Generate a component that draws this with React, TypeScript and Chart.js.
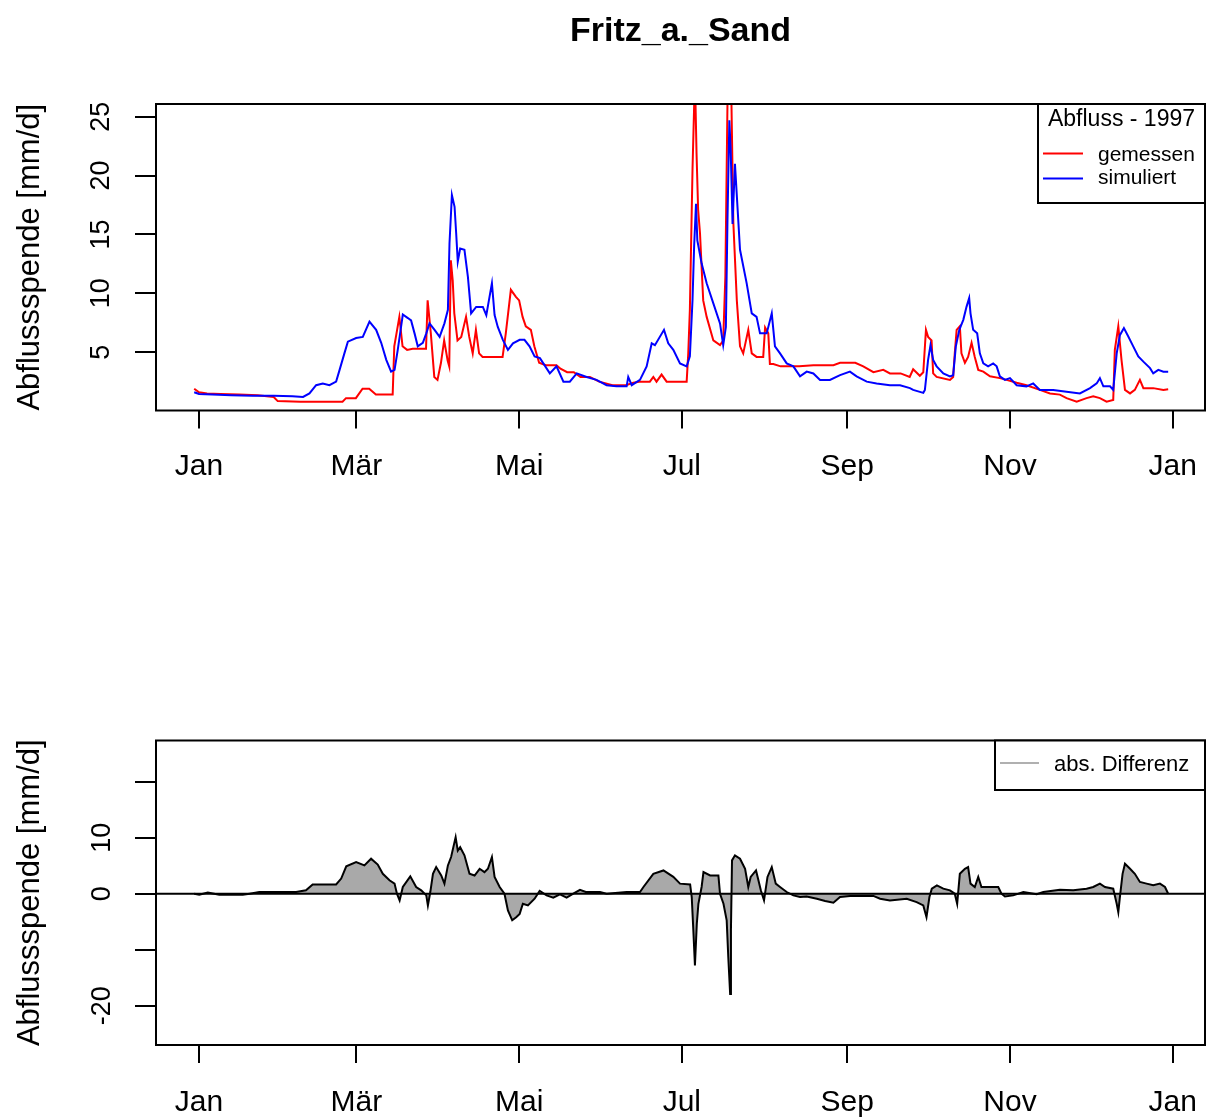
import { useEffect, useRef } from 'react';
import { Chart, registerables } from 'chart.js';

Chart.register(...registerables);

const FONT = '"Liberation Sans", Arial, Helvetica, sans-serif';

// ---- texts ----
const chartTitle = 'Fritz_a._Sand';
const yAxisTitle = 'Abflussspende [mm/d]';
const legendTitle = 'Abfluss - 1997';
const seriesNames = ['gemessen', 'simuliert'];
const diffName = 'abs. Differenz';

// ---- axes (day of year 1997, 0 = 1 Jan) ----
const monthTickDays = [0, 59, 120, 181, 243, 304, 365];
const monthLabels = ['Jan', 'Mär', 'Mai', 'Jul', 'Sep', 'Nov', 'Jan'];
const topYTicks = [5, 10, 15, 20, 25];
const topYLabels = ['5', '10', '15', '20', '25'];
const bottomYTicks = [-20, -10, 0, 10, 20];
const bottomYLabels = ['-20', '', '0', '10', ''];

// ---- measured discharge (gemessen) ----
const measuredDays = [-1.8, 0, 3, 8, 15, 22, 28, 29.5, 38, 45, 53.8, 55.1, 58.8, 61.3, 63.8, 66.3, 72.6, 73.2, 75.1, 76.3, 78, 80.1, 85.1, 85.7, 86.9, 88.2, 89.4, 90.7, 91.9, 93.2, 93.8, 94.4, 95.1, 95.7, 96.9, 98.3, 100.1, 101.3, 102.6, 103.8, 105, 106.3, 113.8, 115, 116.9, 118.8, 120, 121.3, 122.5, 124.4, 125.7, 127.5, 130, 134, 135.5, 138, 140.5, 143, 146.5, 150, 155, 160, 162.8, 165, 169, 170.3, 171.5, 173.4, 175.3, 182.8, 183.4, 184, 185, 185.9, 186.5, 187.1, 187.8, 189, 190.3, 192.8, 195.3, 196.5, 197.3, 198.2, 199, 199.6, 200.3, 201.6, 202.8, 204, 205.9, 207.2, 209, 211.5, 212.2, 213.4, 214, 215.3, 218, 225, 230.3, 237.8, 240.3, 246, 249, 252.8, 256.5, 259, 263, 266.4, 267.7, 270.2, 271.5, 272.5, 273.3, 274.6, 275.2, 276.5, 281.5, 282.7, 283.3, 284, 285.2, 285.8, 287.1, 288.3, 289.6, 290.8, 292.1, 294, 296.5, 300.2, 302.7, 306.5, 310.2, 315.2, 319, 322.7, 325.2, 329, 332.7, 335.2, 337.7, 340.2, 342.7, 343.3, 344.6, 345.8, 347.1, 349, 350.8, 352.7, 354, 357.7, 361.5, 363.3];
const measuredValues = [1.9, 1.6, 1.5, 1.45, 1.4, 1.35, 1.2, 0.85, 0.8, 0.8, 0.8, 1.1, 1.1, 1.9, 1.9, 1.4, 1.4, 5.5, 8.0, 5.5, 5.2, 5.3, 5.3, 9.4, 6.6, 2.9, 2.65, 4.1, 6.0, 4.3, 3.8, 12.8, 11.1, 8.3, 6.0, 6.3, 8.0, 6.3, 4.9, 6.9, 4.9, 4.6, 4.6, 6.6, 10.3, 9.7, 9.4, 8.0, 7.2, 6.9, 5.5, 4.1, 3.9, 3.9, 3.6, 3.3, 3.3, 2.9, 2.9, 2.5, 2.2, 2.2, 2.4, 2.5, 2.5, 2.9, 2.5, 3.1, 2.5, 2.5, 4.9, 8.6, 20.6, 28.5, 21.9, 17.1, 15.1, 9.4, 8.0, 6.0, 5.6, 6.0, 11.4, 28, 42, 26, 16.0, 9.4, 5.5, 4.9, 6.9, 4.9, 4.6, 4.6, 7.1, 6.6, 4.0, 4.0, 3.8, 3.8, 3.9, 3.9, 4.1, 4.1, 3.8, 3.3, 3.5, 3.2, 3.2, 2.9, 3.55, 3.0, 3.3, 6.9, 6.3, 6.0, 3.2, 2.9, 2.65, 2.9, 4.9, 6.9, 7.2, 4.9, 4.1, 4.6, 5.8, 4.6, 3.5, 3.35, 2.95, 2.8, 2.65, 2.4, 2.2, 1.8, 1.5, 1.4, 1.1, 0.8, 1.1, 1.25, 1.1, 0.8, 0.95, 5.2, 7.2, 4.35, 1.8, 1.5, 1.8, 2.65, 1.95, 1.95, 1.8, 1.85];

// ---- simulated discharge (simuliert) ----
const simulatedDays = [-1.8, 0, 5, 12, 20, 28, 35, 39, 41.4, 43.9, 46.4, 48.9, 51.4, 52.7, 54.5, 55.8, 58.9, 61.4, 63.9, 66.4, 68.3, 70.2, 72, 73.3, 74.5, 76.4, 78.3, 79.5, 80.8, 82, 83.9, 85.2, 86.4, 88.3, 90.2, 92, 93.3, 93.9, 94.8, 95.8, 96.4, 97, 97.9, 99.5, 100.8, 102, 103.9, 106.4, 107.7, 108.9, 109.8, 110.8, 112, 113.9, 115.8, 117.7, 120.2, 122, 123.9, 125.8, 127.8, 131.5, 134, 136.6, 139, 141.6, 145.3, 149, 152.8, 156.5, 160.3, 160.9, 162.2, 165.3, 167.8, 169.7, 170.9, 174.3, 175.9, 177.8, 180.3, 182.8, 184, 185, 185.6, 186.3, 186.8, 188.4, 190.3, 192.8, 195.3, 196.5, 197.5, 198.1, 198.8, 199.3, 200, 200.9, 202.8, 205.3, 207.2, 209, 210.3, 212.8, 214.7, 215.9, 217.8, 220.3, 222.8, 225.3, 227.8, 230.3, 232.8, 236.5, 240.3, 244, 246.5, 250.3, 254, 259, 262.8, 266.5, 267.7, 271.5, 272.1, 273.3, 274.2, 275.2, 276.5, 279, 281.5, 282.7, 283.7, 285, 286.5, 287.7, 288.7, 289.2, 290.2, 291.7, 292.7, 294, 295.8, 297.7, 299, 300.2, 302.1, 304, 306.5, 310.2, 312.7, 315.2, 320.2, 325.2, 330.2, 334, 336.5, 337.7, 339, 341.5, 342.7, 344, 345.2, 346.7, 348.3, 350.2, 352.1, 354, 356.5, 357.7, 359.6, 361.5, 363.3];
const simulatedValues = [1.6, 1.45, 1.4, 1.35, 1.3, 1.3, 1.25, 1.2, 1.5, 2.2, 2.35, 2.2, 2.5, 3.5, 4.9, 5.9, 6.2, 6.3, 7.6, 6.9, 5.8, 4.35, 3.35, 3.5, 5.2, 8.2, 7.9, 7.7, 6.6, 5.5, 5.8, 6.6, 7.45, 6.9, 6.3, 7.45, 8.6, 14.25, 18.35, 17.35, 15.1, 12.7, 13.8, 13.7, 11.4, 8.3, 8.85, 8.85, 8.15, 9.7, 10.85, 8.15, 7.15, 6.05, 5.2, 5.75, 6.05, 6.05, 5.5, 4.65, 4.5, 3.2, 3.8, 2.5, 2.5, 3.2, 2.9, 2.65, 2.2, 2.1, 2.1, 2.9, 2.2, 2.65, 3.8, 5.75, 5.6, 6.9, 5.75, 5.2, 4.05, 3.8, 4.65, 9.45, 14.0, 17.6, 14.5, 12.55, 10.85, 9.15, 7.45, 5.6, 7.15, 16.2, 24.7, 22.2, 15.9, 21.0, 13.7, 10.85, 8.3, 8.0, 6.6, 6.6, 8.3, 5.5, 4.9, 4.05, 3.8, 2.95, 3.35, 3.2, 2.65, 2.65, 3.05, 3.35, 2.95, 2.5, 2.35, 2.2, 2.2, 1.95, 1.8, 1.55, 1.8, 4.35, 5.6, 4.35, 3.8, 3.2, 2.95, 3.05, 5.5, 6.9, 7.75, 8.85, 9.6, 8.3, 6.9, 6.6, 4.9, 4.05, 3.8, 4.05, 3.8, 2.95, 2.65, 2.8, 2.2, 2.1, 2.35, 1.8, 1.8, 1.65, 1.5, 1.95, 2.35, 2.8, 2.1, 2.1, 1.8, 4.9, 6.45, 7.05, 6.35, 5.5, 4.65, 4.2, 3.65, 3.2, 3.5, 3.35, 3.35];

// ---- absolute difference (simuliert - gemessen) ----
const diffDays = [-1.8, 0.1, 3.3, 7.6, 12, 16.4, 19, 22.6, 28.9, 36.4, 40.1, 42.6, 51.4, 53.3, 55.2, 58.9, 62, 64.5, 67, 68.9, 71.4, 73.3, 74.2, 75.2, 76.4, 79.2, 81.4, 83.3, 85.2, 85.8, 86.7, 87.7, 88.9, 90.8, 92, 93.3, 94.5, 96.2, 97, 97.9, 99.5, 101.4, 103.3, 105.2, 107, 108.3, 109.8, 110.8, 112.7, 114.5, 115.8, 117.4, 118.9, 120.2, 121.4, 123.3, 125.8, 127.7, 130.3, 132.8, 135.3, 137.8, 140.3, 142.8, 145, 150.3, 152.8, 160.3, 165.3, 166.6, 170.3, 174.1, 177.8, 180.3, 184.1, 184.7, 185.3, 185.9, 186.6, 187.2, 188.4, 189.1, 191.6, 194.7, 195.3, 196.6, 197.8, 198.4, 199.1, 199.4, 199.8, 200.9, 202.8, 204.7, 205.9, 206.8, 208.8, 209.7, 210.6, 211.8, 213.1, 214.7, 216.2, 217.8, 220.3, 222.8, 225.3, 227.8, 231.6, 234.7, 237.8, 240.3, 244, 252.8, 255.3, 259, 265.3, 269, 271.5, 272.7, 273.8, 274.7, 276.6, 279, 281.5, 283.3, 284.2, 285.2, 287.1, 288.3, 289.2, 290.8, 292.1, 293.3, 299.6, 300.8, 302.1, 305.2, 309, 314, 316.5, 322.7, 327.7, 332.7, 335.2, 337.7, 339.6, 342.7, 344, 344.6, 345.2, 346.2, 347.1, 349, 350.8, 352.7, 355.2, 357.7, 360.2, 362.1, 363.3];
const diffValues = [0, -0.2, 0.2, -0.2, -0.2, -0.2, 0, 0.3, 0.3, 0.3, 0.6, 1.65, 1.65, 2.7, 4.9, 5.65, 5.05, 6.25, 5.2, 3.55, 2.4, 1.8, 0, -1.2, 1.2, 3.1, 1.2, 0.6, -0.3, -2.1, 0.3, 3.55, 4.75, 3.25, 1.8, 5.05, 6.55, 10.1, 7.7, 8.3, 6.85, 3.55, 3.25, 4.45, 3.85, 4.45, 6.55, 3.0, 1.2, 0, -3.0, -4.75, -4.2, -3.6, -1.8, -2.1, -0.9, 0.5, -0.3, -0.7, -0.1, -0.7, 0, 0.7, 0.3, 0.3, 0, 0.3, 0.3, 1.2, 3.55, 4.15, 3.0, 1.8, 1.65, -0.6, -6.5, -12.8, -5.4, -1.8, 1.2, 3.85, 3.25, 3.25, 0, -1.8, -4.75, -11.3, -17.9, -6.5, 5.95, 6.85, 6.25, 4.45, 1.2, 3.0, 4.15, 2.4, 0.6, -1.2, 3.0, 4.75, 1.8, 1.2, 0.3, -0.3, -0.6, -0.5, -0.9, -1.3, -1.6, -0.6, -0.4, -0.4, -0.9, -1.2, -0.9, -1.5, -2.1, -4.2, -0.6, 0.9, 1.5, 0.9, 0.6, 0, -1.8, 3.55, 4.45, 4.75, 1.8, 1.2, 3.0, 1.2, 1.2, 0, -0.5, -0.3, 0.3, -0.1, 0.3, 0.7, 0.6, 0.9, 1.2, 1.8, 1.2, 0.9, -1.8, -3.3, -0.6, 3.55, 5.35, 4.45, 3.55, 2.1, 1.8, 1.5, 1.8, 1.2, 0];

const toPoints = (xs: number[], ys: number[]) => xs.map((x, i) => ({ x, y: ys[i] }));

const CANVAS_W = 1206;
const CANVAS_H = 560;

const framePlugin = {
  id: 'frameBox',
  afterDraw(chart: any) {
    const { ctx, chartArea: a } = chart;
    ctx.save();
    ctx.strokeStyle = '#000';
    ctx.lineWidth = 2;
    ctx.strokeRect(a.left, a.top, a.right - a.left, a.bottom - a.top);
    ctx.restore();
  },
};

const topDecorPlugin = {
  id: 'topDecor',
  afterDraw(chart: any) {
    const { ctx, chartArea: a } = chart;
    ctx.save();
    // main title
    ctx.fillStyle = '#000';
    ctx.font = `bold 34px ${FONT}`;
    ctx.textAlign = 'center';
    ctx.textBaseline = 'middle';
    ctx.fillText(chartTitle, (a.left + a.right) / 2, 32);
    // legend box
    const right = a.right;
    const left = right - 167;
    const top = a.top;
    const bottom = top + 99;
    ctx.fillStyle = '#fff';
    ctx.fillRect(left, top, right - left, bottom - top);
    ctx.strokeStyle = '#000';
    ctx.lineWidth = 2;
    ctx.strokeRect(left, top, right - left, bottom - top);
    ctx.fillStyle = '#000';
    ctx.font = `23px ${FONT}`;
    ctx.textAlign = 'center';
    ctx.fillText(legendTitle, (left + right) / 2, top + 15.5);
    const colors = ['#ff0000', '#0000ff'];
    const lineYs = [top + 49.5, top + 74.5];
    const textYs = [top + 51, top + 74];
    ctx.font = `21px ${FONT}`;
    ctx.textAlign = 'left';
    seriesNames.forEach((name, i) => {
      ctx.strokeStyle = colors[i];
      ctx.lineWidth = 2;
      ctx.beginPath();
      ctx.moveTo(left + 5, lineYs[i]);
      ctx.lineTo(left + 45, lineYs[i]);
      ctx.stroke();
      ctx.fillStyle = '#000';
      ctx.fillText(name, left + 60, textYs[i]);
    });
    ctx.restore();
  },
};

const bottomDecorPlugin = {
  id: 'bottomDecor',
  afterDatasetsDraw(chart: any) {
    const { ctx, chartArea: a, scales } = chart;
    const y0 = scales.y.getPixelForValue(0);
    ctx.save();
    ctx.strokeStyle = '#000';
    ctx.lineWidth = 2;
    ctx.beginPath();
    ctx.moveTo(a.left, y0);
    ctx.lineTo(a.right, y0);
    ctx.stroke();
    ctx.restore();
  },
  afterDraw(chart: any) {
    const { ctx, chartArea: a } = chart;
    ctx.save();
    const right = a.right;
    const left = right - 210;
    const top = a.top;
    const bottom = top + 49.5;
    ctx.fillStyle = '#fff';
    ctx.fillRect(left, top, right - left, bottom - top);
    ctx.strokeStyle = '#000';
    ctx.lineWidth = 2;
    ctx.strokeRect(left, top, right - left, bottom - top);
    ctx.strokeStyle = '#b0b0b0';
    ctx.beginPath();
    ctx.moveTo(left + 5, top + 22.5);
    ctx.lineTo(left + 44, top + 22.5);
    ctx.stroke();
    ctx.fillStyle = '#000';
    ctx.font = `22px ${FONT}`;
    ctx.textAlign = 'left';
    ctx.textBaseline = 'middle';
    ctx.fillText(diffName, left + 59, top + 24);
    ctx.restore();
  },
};

const xScale = (height: number, padding: number) => ({
  type: 'linear',
  min: -16.12,
  max: 377.1,
  afterBuildTicks: (s: any) => {
    s.ticks = monthTickDays.map((v) => ({ value: v }));
  },
  afterFit: (s: any) => {
    s.height = height;
    s.paddingLeft = 0;
    s.paddingRight = 0;
    s.paddingTop = 0;
    s.paddingBottom = 0;
  },
  ticks: {
    autoSkip: false,
    maxRotation: 0,
    minRotation: 0,
    padding,
    color: '#000',
    font: { family: FONT, size: 30 },
    callback: (_v: any, i: number) => monthLabels[i],
  },
  grid: { display: true, drawOnChartArea: false, drawTicks: true, tickLength: 18, color: '#000', lineWidth: 2 },
  border: { display: false },
});

const yScale = (min: number, max: number, tickVals: number[], tickLabels: string[], padding: number) => ({
  type: 'linear',
  min,
  max,
  afterBuildTicks: (s: any) => {
    s.ticks = tickVals.map((v) => ({ value: v }));
  },
  afterFit: (s: any) => {
    s.width = 156;
    s.paddingLeft = 0;
    s.paddingRight = 0;
    s.paddingTop = 0;
    s.paddingBottom = 0;
  },
  ticks: {
    autoSkip: false,
    minRotation: 90,
    maxRotation: 90,
    crossAlign: 'center',
    padding,
    color: '#000',
    font: { family: FONT, size: 27 },
    callback: (v: any) => {
      const i = tickVals.indexOf(Number(v));
      return i >= 0 ? tickLabels[i] : '';
    },
  },
  grid: { display: true, drawOnChartArea: false, drawTicks: true, tickLength: 21, color: '#000', lineWidth: 2 },
  border: { display: false },
  title: {
    display: true,
    text: yAxisTitle,
    color: '#000',
    font: { family: FONT, size: 31, lineHeight: 1 },
    padding: { top: 15, bottom: 0 },
  },
});

export default function App() {
  const topRef = useRef<HTMLCanvasElement>(null);
  const botRef = useRef<HTMLCanvasElement>(null);

  useEffect(() => {
    const topChart = new Chart(topRef.current as HTMLCanvasElement, {
      type: 'line',
      data: {
        datasets: [
          {
            label: seriesNames[0],
            data: toPoints(measuredDays, measuredValues),
            borderColor: '#ff0000',
            borderWidth: 2,
            pointRadius: 0,
            tension: 0,
            fill: false,
            order: 2,
          },
          {
            label: seriesNames[1],
            data: toPoints(simulatedDays, simulatedValues),
            borderColor: '#0000ff',
            borderWidth: 2,
            pointRadius: 0,
            tension: 0,
            fill: false,
            order: 1,
          },
        ],
      },
      options: {
        responsive: false,
        animation: false,
        devicePixelRatio: 1,
        layout: { padding: { left: 0, right: 1, top: 104, bottom: 0 } },
        plugins: { legend: { display: false }, tooltip: { enabled: false }, title: { display: false } },
        scales: {
          x: xScale(CANVAS_H - 410.5, 20),
          y: yScale(0.05, 26.08, topYTicks, topYLabels, 18.5),
        },
      } as any,
      plugins: [framePlugin, topDecorPlugin],
    });

    const botChart = new Chart(botRef.current as HTMLCanvasElement, {
      type: 'line',
      data: {
        datasets: [
          {
            label: diffName,
            data: toPoints(diffDays, diffValues),
            borderColor: '#000000',
            backgroundColor: '#a9a9a9',
            borderWidth: 2,
            pointRadius: 0,
            tension: 0,
            fill: 'origin',
          },
        ],
      },
      options: {
        responsive: false,
        animation: false,
        devicePixelRatio: 1,
        layout: { padding: { left: 0, right: 1, top: 180.5, bottom: 0 } },
        plugins: { legend: { display: false }, tooltip: { enabled: false }, title: { display: false } },
        scales: {
          x: xScale(CANVAS_H - 485, 22),
          y: yScale(-27.02, 27.36, bottomYTicks, bottomYLabels, 13),
        },
      } as any,
      plugins: [framePlugin, bottomDecorPlugin],
    });

    return () => {
      topChart.destroy();
      botChart.destroy();
    };
  }, []);

  return (
    <div style={{ position: 'absolute', left: 0, top: 0, width: CANVAS_W, height: CANVAS_H * 2, background: '#fff' }}>
      <canvas
        ref={topRef}
        width={CANVAS_W}
        height={CANVAS_H}
        style={{ position: 'absolute', left: 0, top: 0, width: CANVAS_W, height: CANVAS_H }}
      />
      <canvas
        ref={botRef}
        width={CANVAS_W}
        height={CANVAS_H}
        style={{ position: 'absolute', left: 0, top: CANVAS_H, width: CANVAS_W, height: CANVAS_H }}
      />
    </div>
  );
}
